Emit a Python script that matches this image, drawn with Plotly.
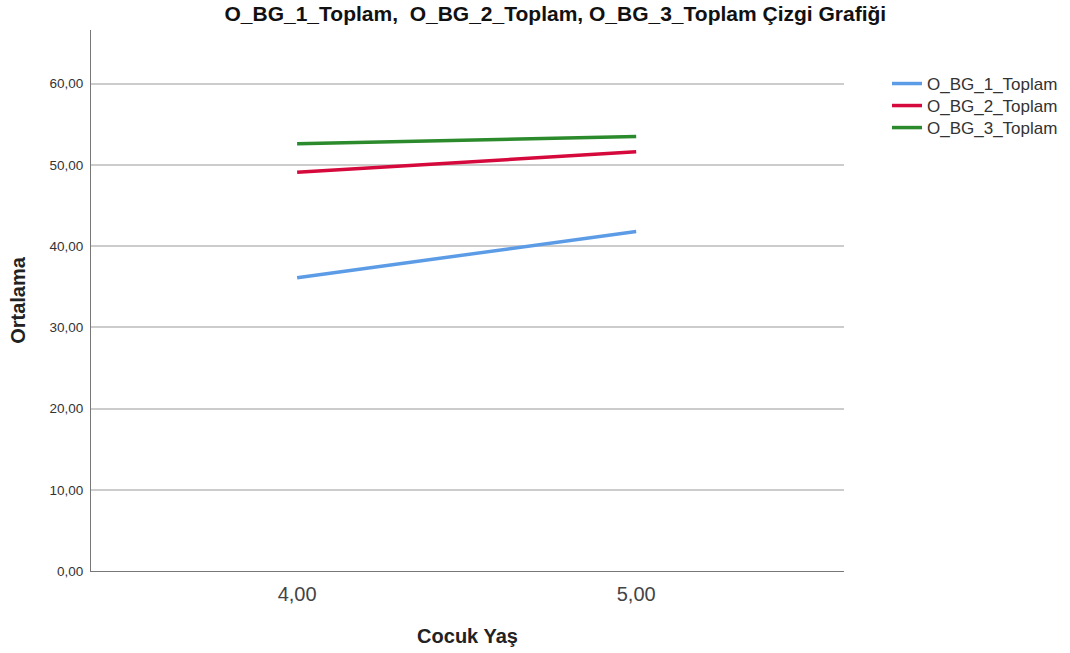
import plotly.graph_objects as go

ages = [4.0, 5.0]
age_labels = ["4,00", "5,00"]
bg1 = [36.1, 41.8]
bg2 = [49.1, 51.6]
bg3 = [52.6, 53.5]
series_names = ["O_BG_1_Toplam", "O_BG_2_Toplam", "O_BG_3_Toplam"]
colors = ["#5C9CE6", "#D5093C", "#2B8A2B"]
y_ticks = [0, 10, 20, 30, 40, 50, 60]
y_labels = ["0,00", "10,00", "20,00", "30,00", "40,00", "50,00", "60,00"]

legend_ids = ["legend", "legend2", "legend3"]
legend_tops = [0.9335, 0.8928, 0.8521]

fig = go.Figure()
for name, vals, c, lg in zip(series_names, [bg1, bg2, bg3], colors, legend_ids):
    fig.add_trace(go.Scatter(x=ages, y=vals, mode="lines", name=name, legend=lg,
                             line=dict(color=c, width=3.5)))

font = "Liberation Sans, Arial, sans-serif"
legend_common = dict(x=1.0571, xanchor="left", yanchor="top",
                     font=dict(size=17, color="#333"), itemwidth=30,
                     bgcolor="rgba(0,0,0,0)")
fig.update_layout(
    width=1070, height=653,
    margin=dict(l=91, r=226, t=30, b=82, autoexpand=False),
    paper_bgcolor="white", plot_bgcolor="white",
    font=dict(family=font, color="#222"),
    title=dict(text="<b>O_BG_1_Toplam,  O_BG_2_Toplam, O_BG_3_Toplam Çizgi Grafiği</b>",
               x=0.519, xanchor="center", y=0.9786, yanchor="middle",
               font=dict(size=21, color="#111")),
    showlegend=True,
    legend=dict(y=legend_tops[0], **legend_common),
    legend2=dict(y=legend_tops[1], **legend_common),
    legend3=dict(y=legend_tops[2], **legend_common),
    xaxis=dict(range=[3.392, 5.613], tickmode="array", tickvals=ages, ticktext=age_labels,
               showgrid=False, zeroline=False, showline=True, linecolor="#777", linewidth=1,
               ticks="", tickfont=dict(size=20, color="#444"), ticklabelstandoff=5,
               title=dict(text="<b>Cocuk Yaş</b>", font=dict(size=20, color="#222"), standoff=24)),
    yaxis=dict(range=[0, 66.6], tickmode="array", tickvals=y_ticks, ticktext=y_labels,
               showgrid=True, gridcolor="#CCCCCC", gridwidth=1.5, zeroline=False,
               showline=True, linecolor="#777", linewidth=1, ticks="",
               tickfont=dict(size=13.5, color="#333"), ticklabelstandoff=4,
               title=dict(text="<b>Ortalama</b>", font=dict(size=20, color="#222"), standoff=18)),
)
fig.write_html("out.html", config={"displayModeBar": False},
               post_script="document.body.style.margin='0';")
